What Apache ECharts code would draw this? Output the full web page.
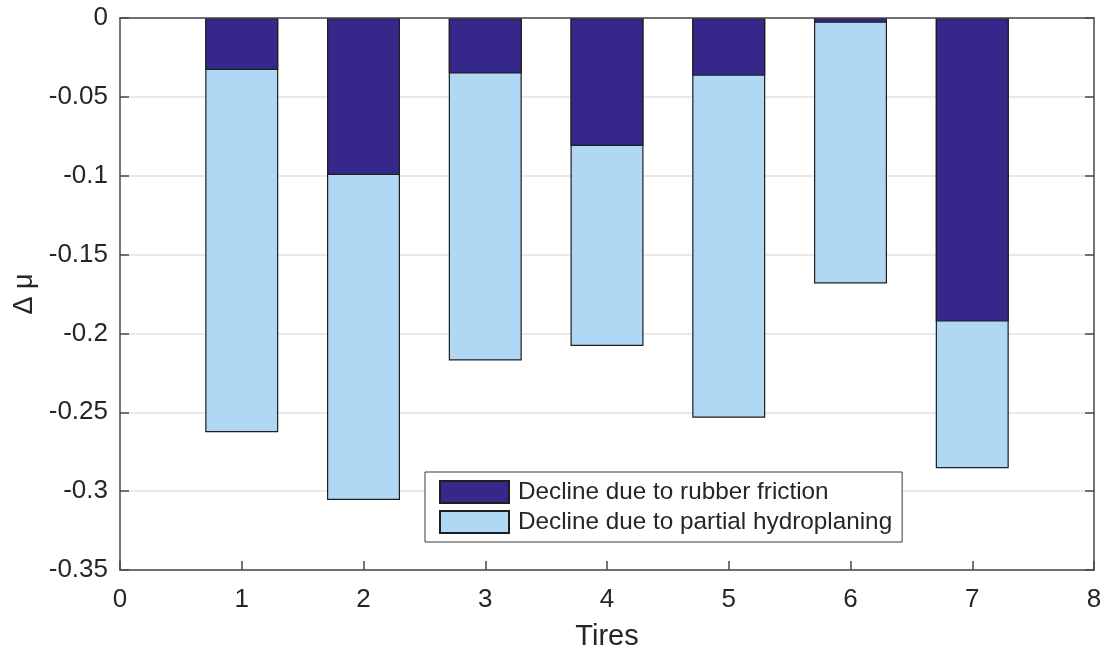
<!DOCTYPE html>
<html>
<head>
<meta charset="utf-8">
<title>Friction decline per tire</title>
<script src="https://cdn.jsdelivr.net/npm/echarts@6/dist/echarts.min.js"></script>
<style>
  html, body { margin: 0; padding: 0; background: #ffffff; }
  #chart { width: 1104px; height: 650px; }
</style>
</head>
<body>
<div id="chart"></div>
<script>
// Tire numbers along the x axis
const tires = [1, 2, 3, 4, 5, 6, 7];
// Friction drop from rubber friction (upper part of each bar)
const rubberFriction = [-0.033, -0.0995, -0.0352, -0.0812, -0.0366, -0.003, -0.1925];
// Total friction drop per tire; the part below the rubber-friction share is partial hydroplaning
const totalDecline = [-0.2626, -0.3056, -0.2172, -0.2080, -0.2534, -0.1683, -0.2855];
// Axis tick values
const xTicks = [0, 1, 2, 3, 4, 5, 6, 7, 8];
const yTicks = [0, -0.05, -0.1, -0.15, -0.2, -0.25, -0.3, -0.35];

const FONT = "'Liberation Sans', Arial, Helvetica, sans-serif";
const TEXT = '#262626';
const AXIS = '#4a4a4a';
const DARK = '#36288a';
const LIGHT = '#b0d7f4';
const EDGE = '#1e1e1e';

const RUBBER = 'Decline due to rubber friction';
const HYDRO = 'Decline due to partial hydroplaning';

const chart = echarts.init(document.getElementById('chart'), null, { renderer: 'canvas' });

const pairs = (vals) => tires.map((t, i) => [t, vals[i]]);

const option = {
  animation: false,
  backgroundColor: '#ffffff',
  textStyle: { fontFamily: FONT, color: TEXT },
  grid: { left: 120, right: 10, top: 18, bottom: 80, containLabel: false, outerBoundsMode: 'none' },
  xAxis: [
    {
      type: 'value',
      position: 'bottom',
      min: xTicks[0],
      max: xTicks[xTicks.length - 1],
      interval: 1,
      z: 10,
      name: 'Tires',
      nameLocation: 'middle',
      nameGap: 52,
      nameTextStyle: { fontSize: 29, color: TEXT, fontFamily: FONT },
      axisLine: { show: true, onZero: false, lineStyle: { color: AXIS, width: 1.5 } },
      axisTick: { show: true, inside: true, length: 9, lineStyle: { color: AXIS, width: 1.5 } },
      axisLabel: { fontSize: 26, color: TEXT, margin: 17, fontFamily: FONT },
      splitLine: { show: false }
    },
    {
      type: 'value',
      position: 'top',
      min: xTicks[0],
      max: xTicks[xTicks.length - 1],
      interval: 1,
      z: 10,
      axisLine: { show: true, onZero: false, lineStyle: { color: AXIS, width: 1.5 } },
      axisTick: { show: false },
      axisLabel: { show: false },
      splitLine: { show: false }
    }
  ],
  yAxis: [
    {
      type: 'value',
      position: 'left',
      min: yTicks[yTicks.length - 1],
      max: yTicks[0],
      interval: 0.05,
      name: 'Δ μ',
      nameLocation: 'middle',
      nameGap: 80,
      nameRotate: 90,
      nameTextStyle: { fontSize: 27, color: TEXT, fontFamily: FONT },
      axisLine: { show: true, onZero: false, lineStyle: { color: AXIS, width: 1.5 } },
      axisTick: { show: true, inside: true, length: 9, lineStyle: { color: AXIS, width: 1.5 } },
      axisLabel: {
        fontSize: 26, color: TEXT, margin: 12, fontFamily: FONT,
        formatter: (v) => String(Math.round(v * 100) / 100)
      },
      splitLine: { show: true, lineStyle: { color: '#e2e2e2', width: 1.5 } }
    },
    {
      type: 'value',
      position: 'right',
      min: yTicks[yTicks.length - 1],
      max: yTicks[0],
      interval: 0.05,
      z: 10,
      axisLine: { show: true, onZero: false, lineStyle: { color: AXIS, width: 1.5 } },
      axisTick: { show: true, inside: true, length: 9, lineStyle: { color: AXIS, width: 1.5 } },
      axisLabel: { show: false },
      splitLine: { show: false }
    }
  ],
  legend: {
    orient: 'vertical',
    left: 425,
    top: 472,
    align: 'left',
    padding: [8, 10, 8, 14],
    itemGap: 6,
    itemWidth: 69,
    itemHeight: 22,
    backgroundColor: '#ffffff',
    borderColor: '#3a3a3a',
    borderWidth: 1,
    textStyle: { fontSize: 24.3, lineHeight: 22, color: TEXT, fontFamily: FONT, padding: [0, 0, 0, 4] },
    data: [
      { name: RUBBER, icon: 'rect' },
      { name: HYDRO, icon: 'rect' }
    ]
  },
  series: [
    {
      // full bar down to the total; the rubber-friction bar is laid over its top part
      name: HYDRO,
      type: 'bar',
      barWidth: 73,
      barGap: '-100%',
      xAxisIndex: 0,
      yAxisIndex: 0,
      z: 2,
      data: pairs(totalDecline),
      itemStyle: { color: LIGHT, borderColor: EDGE, borderWidth: 1.2 }
    },
    {
      name: RUBBER,
      type: 'bar',
      barWidth: 73,
      barGap: '-100%',
      xAxisIndex: 0,
      yAxisIndex: 0,
      z: 3,
      data: pairs(rubberFriction),
      itemStyle: { color: DARK, borderColor: EDGE, borderWidth: 1.2 }
    }
  ]
};

chart.setOption(option);
</script>
</body>
</html>
